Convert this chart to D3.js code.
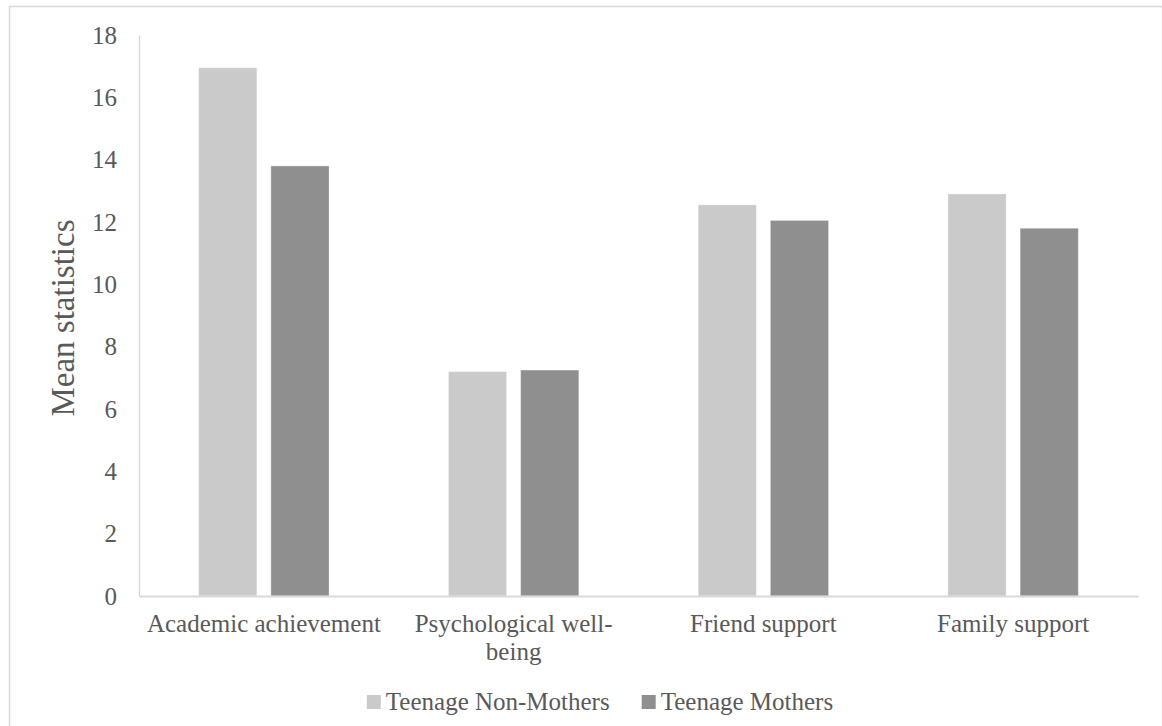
<!DOCTYPE html>
<html>
<head>
<meta charset="utf-8">
<script src="https://cdn.jsdelivr.net/npm/d3@7/dist/d3.min.js"></script>
<style>
  html, body { margin: 0; padding: 0; background: #fff; }
  svg { display: block; }
  text { font-family: "Liberation Serif", "DejaVu Serif", serif; fill: #595959; }
</style>
</head>
<body>
<svg id="chart" width="1162" height="726"></svg>
<script>
// Mean scores by outcome for the two groups
const categories = ["Academic achievement", "Psychological well-being", "Friend support", "Family support"];
const categoryLines = [["Academic achievement"], ["Psychological well-", "being"], ["Friend support"], ["Family support"]];
const seriesNames = ["Teenage Non-Mothers", "Teenage Mothers"];
const nonMothers = [16.95, 7.2, 12.55, 12.9];
const mothers = [13.8, 7.25, 12.05, 11.8];
const yTicks = [0, 2, 4, 6, 8, 10, 12, 14, 16, 18];
const colors = ["#cacaca", "#8f8f8f"];

const svg = d3.select("#chart");
const W = 1162, H = 726;
const plot = { left: 139, right: 1138, top: 35, bottom: 596 };

// outer chart frame (bottom edge runs past the canvas)
svg.append("rect")
  .attr("x", 9.5).attr("y", 6.5)
  .attr("width", W - 9).attr("height", H)
  .attr("fill", "none").attr("stroke", "#d9d9d9").attr("stroke-width", 1.5);

const x0 = d3.scaleBand().domain(categories).range([plot.left, plot.right]).padding(0);
const y = d3.scaleLinear().domain([0, 18]).range([plot.bottom, plot.top]);

const barW = x0.bandwidth() * 0.233;
const innerGap = 14;
const x1 = d3.scaleOrdinal().domain(seriesNames)
  .range([-(barW + innerGap / 2), innerGap / 2]);

const rows = categories.map((c, i) => ({ cat: c, vals: [nonMothers[i], mothers[i]] }));

// bars
const groups = svg.append("g").selectAll("g").data(rows).join("g")
  .attr("transform", d => `translate(${x0(d.cat) + x0.bandwidth() / 2},0)`);
groups.selectAll("rect")
  .data(d => d.vals.map((v, k) => ({ name: seriesNames[k], v, k })))
  .join("rect")
  .attr("x", d => x1(d.name))
  .attr("y", d => y(d.v))
  .attr("width", barW)
  .attr("height", d => y(0) - y(d.v))
  .attr("fill", d => colors[d.k])
  .attr("stroke", "rgba(255,255,255,0.35)")
  .attr("stroke-width", 1);

// y axis
const yAxis = d3.axisLeft(y).tickValues(yTicks).tickSize(0).tickPadding(22).tickFormat(d3.format("d"));
const gy = svg.append("g").attr("transform", `translate(${plot.left},0)`).call(yAxis);
gy.select(".domain").attr("stroke", "#d9d9d9").attr("stroke-width", 1.5);
gy.selectAll(".tick text").attr("font-size", 25).attr("font-family", "Liberation Serif").attr("fill", "#595959");

// x axis baseline
const xAxis = d3.axisBottom(x0).tickSize(0).tickFormat("");
const gx = svg.append("g").attr("transform", `translate(0,${plot.bottom})`).call(xAxis);
gx.select(".domain").attr("stroke", "#d9d9d9").attr("stroke-width", 2);

// category labels
svg.append("g").selectAll("text").data(categories).join("text")
  .attr("text-anchor", "middle")
  .attr("font-size", 25)
  .attr("x", d => x0(d) + x0.bandwidth() / 2)
  .attr("y", 632)
  .each(function (d, i) {
    const t = d3.select(this);
    categoryLines[i].forEach((line, j) => {
      t.append("tspan").attr("x", x0(d) + x0.bandwidth() / 2).attr("dy", j === 0 ? 0 : 28).text(line);
    });
  });

// y axis title
svg.append("text")
  .attr("transform", "translate(74,318) rotate(-90)")
  .attr("text-anchor", "middle")
  .attr("font-size", 33)
  .text("Mean statistics");

// legend
const legend = svg.append("g");
const items = legend.selectAll("g").data(seriesNames).join("g");
items.append("rect").attr("width", 14).attr("height", 14).attr("y", -15)
  .attr("fill", (d, i) => colors[i]);
items.append("text").attr("x", 19).attr("y", 0).attr("font-size", 25).text(d => d);
let cx = 0;
const widths = [];
items.each(function () { widths.push(this.getBBox().width); });
const gapItems = 32;
const total = widths.reduce((a, b) => a + b, 0) + gapItems;
const startX = 600 - total / 2;
items.attr("transform", (d, i) => {
  const xx = startX + (i === 0 ? 0 : widths[0] + gapItems);
  return `translate(${xx},710)`;
});
</script>
</body>
</html>
